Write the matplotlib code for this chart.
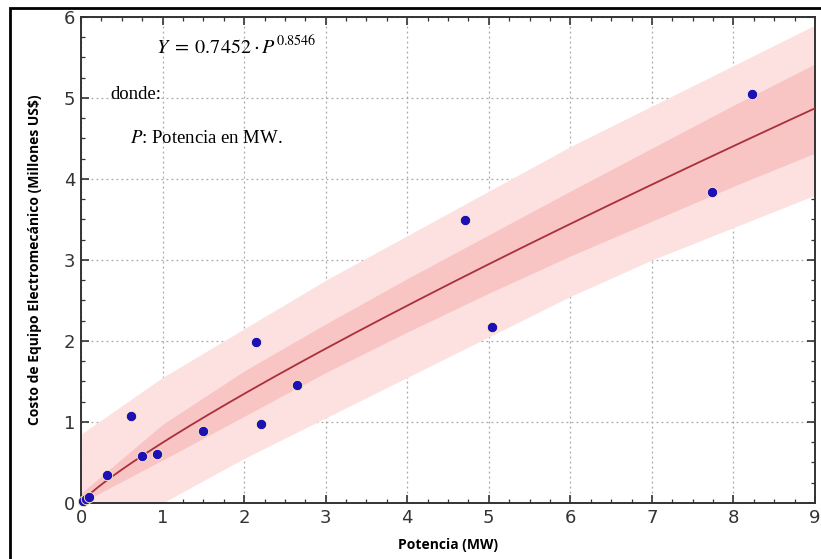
import matplotlib
matplotlib.use("Agg")
import matplotlib.pyplot as plt
import numpy as np
from matplotlib.patches import Rectangle
from matplotlib.ticker import MultipleLocator

# Observed plants: installed power (MW) and electromechanical equipment cost (MUS$)
potencia = [0.03, 0.06, 0.10, 0.32, 0.61, 0.75, 0.93, 1.50, 2.14, 2.21, 2.65, 4.71, 5.04, 7.74, 8.23]
costo = [0.03, 0.05, 0.07, 0.35, 1.08, 0.58, 0.61, 0.89, 1.99, 0.98, 1.46, 3.49, 2.17, 3.84, 5.05]

# Fitted power law Y = a * P^b
coef_a = 0.7452
coef_b = 0.8546

# Interval limits along the power axis
banda_x = [0, 1, 2, 3, 4, 5, 6, 7, 8, 9]
pred_sup = [0.85, 1.55, 2.15, 2.75, 3.30, 3.85, 4.40, 4.90, 5.40, 5.90]
pred_inf = [-0.40, 0.00, 0.55, 1.05, 1.55, 2.05, 2.55, 3.00, 3.40, 3.80]
conf_sup = [0.12, 0.97, 1.63, 2.21, 2.77, 3.31, 3.85, 4.38, 4.91, 5.42]
conf_inf = [0.00, 0.53, 1.07, 1.61, 2.11, 2.59, 3.05, 3.48, 3.91, 4.32]

x_ticks = [0, 1, 2, 3, 4, 5, 6, 7, 8, 9]
y_ticks = [0, 1, 2, 3, 4, 5, 6]

fig = plt.figure(figsize=(8.21, 5.59), dpi=100)
ax = fig.add_axes([0.0987, 0.1002, 0.894, 0.8694])

ax.fill_between(banda_x, pred_inf, pred_sup, color="#fde1e1", lw=0, zorder=1)
ax.fill_between(banda_x, conf_inf, conf_sup, color="#f8c4c4", lw=0, zorder=2)

xs = np.linspace(0, 9, 300)
ax.plot(xs, coef_a * xs ** coef_b, color="#a8303a", lw=1.3, zorder=3)

ax.scatter(potencia, costo, s=56, color="#1f10b4", edgecolors="#fff3c8",
           linewidths=0.6, zorder=4, clip_on=False)

ax.set_xlim(0, 9)
ax.set_ylim(0, 6)
ax.set_xticks(x_ticks)
ax.set_yticks(y_ticks)
ax.xaxis.set_minor_locator(MultipleLocator(0.25))
ax.yaxis.set_minor_locator(MultipleLocator(0.25))
ax.tick_params(which="both", direction="in", top=True, right=True, colors="#333333")
ax.tick_params(which="major", length=6, width=1.2, labelsize=13, pad=4)
ax.tick_params(which="minor", length=3, width=0.9)
for lbl in ax.get_xticklabels() + ax.get_yticklabels():
    lbl.set_color("#333333")
for sp in ax.spines.values():
    sp.set_color("#333333")
    sp.set_linewidth(1.4)

ax.grid(True, which="major", color="#a8a8a8", linestyle=(0, (1.5, 2.5)), lw=0.9, zorder=0)
ax.set_axisbelow(True)

ax.set_xlabel("Potencia (MW)", fontsize=10, fontweight="bold", family="Open Sans", labelpad=8)
ax.set_ylabel("Costo de Equipo Electromecánico (Millones US$)", fontsize=10,
              fontweight="bold", family="Open Sans", labelpad=16)

plt.rcParams["mathtext.fontset"] = "stix"
serif = "Liberation Serif"
ax.text(0.92, 5.63, r"$Y\;=\;0.7452\cdot P^{0.8546}$", fontsize=14.5, family=serif,
        va="center", ha="left", zorder=5)
ax.text(0.36, 5.04, "donde:", fontsize=13.5, family=serif, va="center", ha="left", zorder=5)
ax.text(0.60, 4.50, r"$P$: Potencia en MW.", fontsize=13.5, family=serif,
        va="center", ha="left", zorder=5)

# Outer frame around the figure
fig.patches.append(Rectangle((10 / 821, -0.2), 1.2, 1.2 - 8 / 559, transform=fig.transFigure,
                             fill=False, edgecolor="black", lw=2.0))

fig.savefig("out.png", dpi=100)
